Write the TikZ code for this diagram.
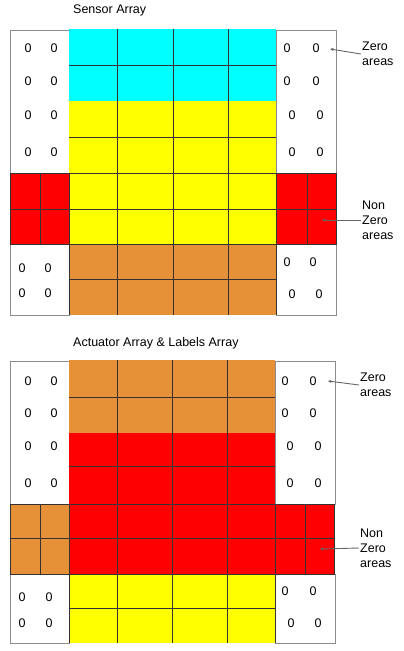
\documentclass[tikz,border=0pt]{standalone}
\usepackage{fontspec}
\setmainfont{Liberation Sans}
\usetikzlibrary{arrows.meta}
\definecolor{cellcyan}{HTML}{00FFFF}
\definecolor{cellyellow}{HTML}{FFFF00}
\definecolor{cellred}{HTML}{FF0000}
\definecolor{cellorange}{HTML}{E69138}
\tikzset{
  zerobox/.style={draw=black!45, fill=white, line width=1pt},
  gridline/.style={draw=black!80, line width=1.1pt},
  zero/.style={inner sep=0pt, font=\fontsize{12.5}{14}\selectfont},
  arraytitle/.style={anchor=west, inner sep=0pt, font=\fontsize{12.5}{14}\selectfont},
  arealabel/.style={anchor=west, align=left, inner sep=1pt, font=\fontsize{12.5}{15}\selectfont},
  pointer/.style={draw=black!60, line width=0.9pt, -{Stealth[length=3.5pt,width=3pt]}},
}
\begin{document}
\begin{tikzpicture}[x=1pt, y=-1pt]
\useasboundingbox (0,0) rectangle (404,651);
% sensor array
\node[arraytitle] (sensortitle) at (73,10) {Sensor Array};
\draw[zerobox] (10,30) rectangle (69,173);
\draw[zerobox] (10,244) rectangle (69,315);
\draw[zerobox] (276,30) rectangle (336,173);
\draw[zerobox] (276,244) rectangle (336,315);
\fill[cellcyan] (69,29) rectangle (276,101);
\fill[cellyellow] (69,101) rectangle (276,244);
\fill[cellorange] (69,244) rectangle (276,315);
\fill[cellred] (10,173) rectangle (69,244);
\fill[cellred] (276,173) rectangle (337,244);
\foreach \x in {117.5,173.5,228.5}
  \draw[gridline] (\x,29) -- (\x,315);
\foreach \y in {65.5,137.5,209.5,279.5}
  \draw[gridline] (69,\y) -- (276,\y);
\draw[gridline] (10,173.5) -- (337,173.5);
\draw[gridline] (10,244.5) -- (337,244.5);
\draw[gridline] (10,209.5) -- (69,209.5);
\draw[gridline] (276,209.5) -- (337,209.5);
\draw[gridline] (40.5,173) -- (40.5,244);
\draw[gridline] (307.5,173) -- (307.5,244);
\draw[gridline] (10.5,173) -- (10.5,244);
\draw[gridline] (336.5,173) -- (336.5,244);
\draw[gridline] (69.5,173) -- (69.5,315);
\draw[gridline] (276.5,173) -- (276.5,315);
\foreach \y/\xa/\xb [count=\r] in {48/287/316, 81/287/316, 115/292/320, 152/292/320} {
  \node[zero] (sl-\r-1) at (28,\y) {0};
  \node[zero] (sl-\r-2) at (54,\y) {0};
  \node[zero] (sr-\r-1) at (\xa,\y) {0};
  \node[zero] (sr-\r-2) at (\xb,\y) {0};
}
\foreach \y/\xa/\xb [count=\r] in {262/287/313, 294/292/319} {
  \node[zero] (sbr-\r-1) at (\xa,\y) {0};
  \node[zero] (sbr-\r-2) at (\xb,\y) {0};
}
\foreach \y [count=\r] in {268,293} {
  \node[zero] (sbl-\r-1) at (22,\y) {0};
  \node[zero] (sbl-\r-2) at (48,\y) {0};
}
\node[arealabel] (szero) at (361,54) {Zero\\areas};
\coordinate (szerotip) at (330,49);
\draw[pointer] (szero.west) -- (szerotip);
\node[arealabel] (snonzero) at (361,220) {Non\\Zero\\areas};
\coordinate (snonzerotip) at (322,220);
\draw[pointer] (snonzero.west) -- (snonzerotip);

% actuator array and labels array
\begin{scope}[shift={(0,331)}]
\node[arraytitle] (actuatortitle) at (73,12) {Actuator Array \& Labels Array};
\draw[zerobox] (10,30) rectangle (69,173);
\draw[zerobox] (10,243) rectangle (69,312);
\draw[zerobox] (275,30) rectangle (335,173);
\draw[zerobox] (275,243) rectangle (335,312);
\fill[cellorange] (69,29) rectangle (275,102);
\fill[cellred] (69,102) rectangle (275,243);
\fill[cellyellow] (69,243) rectangle (275,312);
\fill[cellorange] (10,173) rectangle (69,243);
\fill[cellred] (275,173) rectangle (335,243);
\foreach \x in {117.5,172.5,227.5}
  \draw[gridline] (\x,29) -- (\x,312);
\foreach \y in {66.5,135.5,207.5,277.5}
  \draw[gridline] (69,\y) -- (275,\y);
\draw[gridline] (10,173.5) -- (335,173.5);
\draw[gridline] (10,243.5) -- (335,243.5);
\draw[gridline] (10,207.5) -- (69,207.5);
\draw[gridline] (275,207.5) -- (335,207.5);
\draw[gridline] (40.5,173) -- (40.5,243);
\draw[gridline] (305.5,173) -- (305.5,243);
\draw[gridline] (10.5,173) -- (10.5,243);
\draw[gridline] (334.5,173) -- (334.5,243);
\draw[gridline] (69.5,173) -- (69.5,312);
\draw[gridline] (275.5,173) -- (275.5,312);
\foreach \y/\xa/\xb [count=\r] in {50/285/313, 82/285/313, 115/290/318, 152/290/318} {
  \node[zero] (al-\r-1) at (28,\y) {0};
  \node[zero] (al-\r-2) at (54,\y) {0};
  \node[zero] (ar-\r-1) at (\xa,\y) {0};
  \node[zero] (ar-\r-2) at (\xb,\y) {0};
}
\foreach \y/\xa/\xb [count=\r] in {260/285/313, 292/291/318} {
  \node[zero] (abr-\r-1) at (\xa,\y) {0};
  \node[zero] (abr-\r-2) at (\xb,\y) {0};
}
\foreach \y [count=\r] in {266,292} {
  \node[zero] (abl-\r-1) at (22,\y) {0};
  \node[zero] (abl-\r-2) at (49,\y) {0};
}
\node[arealabel] (azero) at (359,54) {Zero\\areas};
\coordinate (azerotip) at (328,50);
\draw[pointer] (azero.west) -- (azerotip);
\node[arealabel] (anonzero) at (359,217) {Non\\Zero\\areas};
\coordinate (anonzerotip) at (320,218);
\draw[pointer] (anonzero.west) -- (anonzerotip);
\end{scope}
\end{tikzpicture}
\end{document}
